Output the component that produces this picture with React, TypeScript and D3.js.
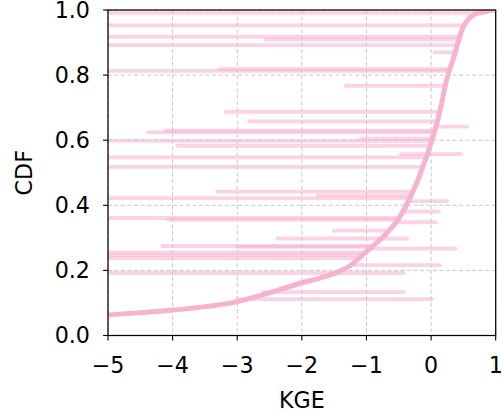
import React from "react";
import * as d3 from "d3";

// Main CDF curve (KGE value, cumulative fraction)
const curveKGE = [-6, -5, -4, -3, -2.5, -2, -1.75, -1.5, -1.25, -1, -0.75, -0.5, -0.2, 0.02, 0.12, 0.25, 0.35, 0.48, 0.67, 0.87, 0.95];
const curveCDF = [0.045, 0.063, 0.078, 0.104, 0.131, 0.162, 0.175, 0.19, 0.215, 0.258, 0.302, 0.36, 0.48, 0.604, 0.675, 0.792, 0.854, 0.94, 0.986, 0.996, 1.0];

// Outlier spikes: CDF level, left KGE end, right KGE end (null = meets the curve)
const spikeCDF = [0.991, 0.953, 0.918, 0.909, 0.892, 0.87, 0.818, 0.813, 0.767, 0.687, 0.658, 0.642, 0.629, 0.624, 0.605, 0.598, 0.583, 0.557, 0.547, 0.518, 0.442, 0.43, 0.422, 0.413, 0.381, 0.361, 0.356, 0.348, 0.322, 0.298, 0.275, 0.272, 0.267, 0.255, 0.247, 0.238, 0.216, 0.192, 0.133, 0.112];
const spikeLo: (number | null)[] = [-9, -9, -9, -2.56, -9, 0.05, -3.26, -9, -1.32, -3.18, -2.81, null, -4.11, -4.37, -1.09, -9, -3.93, -0.47, -9, -9, -3.31, -1.76, -9, null, null, -9, -4.06, null, -1.5, -2.38, -4.16, -3.0, null, -9, -9, -9, null, -9, -2.6, -3.0];
const spikeHi: (number | null)[] = [null, null, null, null, null, null, null, null, null, null, null, 0.56, null, null, null, null, null, 0.46, null, null, null, null, null, 0.25, 0.12, null, null, 0.07, null, -0.37, null, null, 0.38, null, null, null, 0.14, -0.42, -0.42, 0.01];

const xTicks = [-5, -4, -3, -2, -1, 0, 1];
const yTicks = [0, 0.2, 0.4, 0.6, 0.8, 1.0];

const W = 502, H = 412;
const L = 108, R = 495.7, T = 10, B = 335.5;
const FONT = "'DejaVu Sans', sans-serif";
const FS = 22.2;

export default function App() {
  const x = d3.scaleLinear().domain([-5, 1]).range([L, R]);
  const y = d3.scaleLinear().domain([0, 1]).range([B, T]);

  const curveAt = (v: number) => {
    for (let i = 1; i < curveCDF.length; i++) {
      if (curveCDF[i] >= v) {
        const t = (v - curveCDF[i - 1]) / (curveCDF[i] - curveCDF[i - 1]);
        return curveKGE[i - 1] + t * (curveKGE[i] - curveKGE[i - 1]);
      }
    }
    return curveKGE[curveKGE.length - 1];
  };

  const line = d3
    .line<number>()
    .x((_, i) => x(curveKGE[i]))
    .y((d) => y(d))
    .curve(d3.curveMonotoneX);

  const minus = (v: number) => (v < 0 ? "\u2212" + Math.abs(v) : String(v));

  return (
    <svg width={W} height={H} style={{ position: "absolute", left: 0, top: 0, background: "#fff" }}>
      <defs>
        <clipPath id="plot">
          <rect x={L} y={T} width={R - L} height={B - T} />
        </clipPath>
      </defs>
      <rect x={0} y={0} width={W} height={H} fill="#fff" />
      {/* grid */}
      <g stroke="#c8c8c8" strokeWidth={1} strokeDasharray="4,2.5">
        {xTicks.map((t) => (
          <line key={"gx" + t} x1={x(t)} x2={x(t)} y1={T} y2={B} />
        ))}
        {yTicks.map((t) => (
          <line key={"gy" + t} x1={L} x2={R} y1={y(t)} y2={y(t)} />
        ))}
      </g>
      <g clipPath="url(#plot)">
        {spikeCDF.map((v, i) => {
          const lo = spikeLo[i] === null ? curveAt(v) : (spikeLo[i] as number);
          const hi = spikeHi[i] === null ? curveAt(v) : (spikeHi[i] as number);
          return (
            <line
              key={"s" + i}
              x1={x(lo)}
              x2={x(hi)}
              y1={y(v)}
              y2={y(v)}
              stroke="#f7b6d2"
              strokeOpacity={0.6}
              strokeWidth={3.8}
              strokeLinecap="round"
            />
          );
        })}
        <path d={line(curveCDF) || ""} fill="none" stroke="#f5b3d0" strokeWidth={5} strokeLinejoin="round" strokeLinecap="round" />
      </g>
      {/* spines */}
      <rect x={L} y={T} width={R - L} height={B - T} fill="none" stroke="#000" strokeWidth={1.25} />
      {/* ticks */}
      <g stroke="#000" strokeWidth={1.1}>
        {xTicks.map((t) => (
          <line key={"tx" + t} x1={x(t)} x2={x(t)} y1={B} y2={B + 4.9} />
        ))}
        {yTicks.map((t) => (
          <line key={"ty" + t} x1={L - 4.9} x2={L} y1={y(t)} y2={y(t)} />
        ))}
      </g>
      <g fontFamily={FONT} fontSize={FS} fill="#000">
        {xTicks.map((t) => (
          <text key={"lx" + t} x={x(t)} y={373} textAnchor="middle">
            {minus(t)}
          </text>
        ))}
        {yTicks.map((t) => (
          <text key={"ly" + t} x={90} y={y(t)} dy="0.36em" textAnchor="end">
            {t.toFixed(1)}
          </text>
        ))}
        <text x={(L + R) / 2} y={408} textAnchor="middle">KGE</text>
        <text transform={`translate(32,${(T + B) / 2}) rotate(-90)`} textAnchor="middle">CDF</text>
      </g>
    </svg>
  );
}
